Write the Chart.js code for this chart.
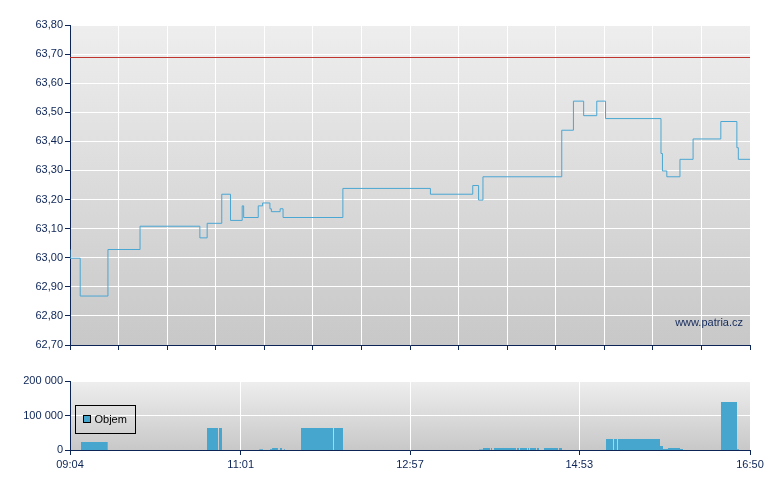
<!DOCTYPE html>
<html><head><meta charset="utf-8">
<script src="https://cdn.jsdelivr.net/npm/chart.js@4/dist/chart.umd.min.js"></script>
<style>
html,body{margin:0;padding:0;background:#fff;}
#wrap{position:relative;width:780px;height:490px;overflow:hidden;}
canvas{position:absolute;left:0;}
#c1{top:0;width:780px;height:360px;}
#c2{top:360px;width:780px;height:130px;}
</style></head><body>
<div id="wrap"><canvas id="c1" width="780" height="360"></canvas><canvas id="c2" width="780" height="130"></canvas></div>
<script>
// ---- data ----
const priceTimes = ['09:04','09:04','09:11','09:30','09:52','10:33','10:38','10:48','10:54','11:02','11:03','11:13','11:16','11:21','11:22','11:28','11:30','12:11','13:11','13:40','13:44','13:47','14:41','14:49','14:56','15:05','15:11','15:49','15:50','15:53','16:02','16:11','16:30','16:41','16:42','16:50'];
const prices = [63.03,63.00,62.87,63.03,63.11,63.07,63.12,63.22,63.13,63.18,63.14,63.18,63.19,63.17,63.16,63.17,63.14,63.24,63.22,63.25,63.20,63.28,63.44,63.54,63.49,63.54,63.48,63.36,63.30,63.28,63.34,63.41,63.47,63.38,63.34,63.34];
const prevClose = 63.69;
const volTimes = ['09:04:00','09:11:32','09:29:50','10:37:53','10:45:25','10:46:07','10:48:10','11:13:43','11:16:16','11:21:04','11:22:30','11:26:30','11:27:54','11:29:15','11:30:40','11:31:20','11:42:18','12:04:14','12:04:55','12:11:05','13:44:17','13:47:01','13:51:49','13:52:30','13:53:12','13:54:34','14:09:38','14:10:20','14:11:42','14:12:23','14:17:11','14:17:52','14:18:33','14:19:14','14:23:21','14:24:02','14:25:24','14:28:50','14:38:25','14:39:07','14:41:10','15:11:19','15:16:07','15:16:48','15:18:51','15:19:32','15:48:19','15:50:23','15:53:48','16:02:02','16:04:05','16:30:07','16:41:05','16:42:27','16:50:00'];
const volumes = [0,23000,0,64000,0,64000,0,2500,0,2500,5500,0,5500,0,2500,0,64000,0,64000,0,1500,5500,0,5500,0,5500,0,5500,0,5500,0,5500,0,5500,0,5500,0,5500,0,5500,0,32000,0,32000,0,32000,11500,3000,6000,3000,0,139000,2500,0,0];
const priceTicks = [62.70,62.80,62.90,63.00,63.10,63.20,63.30,63.40,63.50,63.60,63.70,63.80];
const timeLabels = ['09:04','11:01','12:57','14:53','16:50'];
const volTicks = [0,100000,200000];
const volTickLabels = ['0','100 000','200 000'];
const volumeLabel = 'Objem';
const watermark = 'www.patria.cz';

// ---- helpers ----
function toMin(s){const p=s.split(':').map(Number);return p[0]*60+p[1]+(p[2]||0)/60;}
const tStart = toMin(timeLabels[0]), tEnd = toMin(timeLabels[timeLabels.length-1]);
const NAVY = '#0c2456';
const FONT = '"Liberation Sans", Arial, sans-serif';
Chart.defaults.font.family = FONT;
Chart.defaults.font.size = 11;
Chart.defaults.color = NAVY;

const bgPlugin = {
  id:'bg',
  beforeDraw(chart){
    const a = chart.chartArea, ctx = chart.ctx;
    const g = ctx.createLinearGradient(0,a.top,0,a.bottom);
    g.addColorStop(0,'#eeeeee'); g.addColorStop(1,'#c8c8c8');
    ctx.save(); ctx.fillStyle = g; ctx.fillRect(a.left,a.top,a.right-a.left,a.bottom-a.top); ctx.restore();
  }
};
const crispPlugin = {
  id:'crisp',
  beforeDatasetsDraw(chart){ chart.ctx.save(); chart.ctx.translate(0,0.5); },
  afterDatasetsDraw(chart){ chart.ctx.restore(); }
};
const wmPlugin = {
  id:'wm',
  afterDatasetsDraw(chart){
    const a = chart.chartArea, ctx = chart.ctx;
    ctx.save(); ctx.font = '11px '+FONT; ctx.fillStyle = '#142a5c';
    ctx.textAlign='right'; ctx.textBaseline='middle';
    ctx.fillText(watermark, a.right-7, a.bottom-22);
    ctx.restore();
  }
};
const legendPlugin = {
  id:'lg',
  afterDatasetsDraw(chart){
    const a = chart.chartArea, ctx = chart.ctx;
    const x = a.left+5.5, y = 45.5;
    ctx.save();
    ctx.strokeStyle='#000'; ctx.lineWidth=1;
    ctx.strokeRect(x,y,60,28);
    ctx.fillStyle='#46a6ce'; ctx.fillRect(x+8,y+10,7,7); ctx.strokeRect(x+8,y+10,7,7);
    ctx.fillStyle='#000'; ctx.font='11px '+FONT; ctx.textBaseline='middle'; ctx.textAlign='left';
    ctx.fillText(volumeLabel, x+19, y+14.5);
    ctx.restore();
  }
};

// ---- price chart ----
const topXTicks = [];
for(let i=0;i<=14;i++) topXTicks.push({value: tStart + (tEnd-tStart)*i/14});

new Chart(document.getElementById('c1'), {
  type:'line',
  data:{datasets:[
    {data: priceTimes.map((t,i)=>({x:toMin(t), y:prices[i]})), borderColor:'#4aa6d2', borderWidth:1, pointRadius:0, stepped:true, fill:false},
    {data:[{x:tStart,y:prevClose},{x:tEnd,y:prevClose}], borderColor:'#c0352e', borderWidth:1, pointRadius:0, fill:false}
  ]},
  options:{
    responsive:false, animation:false, events:[],
    layout:{padding:{top:25,right:30,left:0,bottom:0}},
    plugins:{legend:{display:false}, tooltip:{enabled:false}},
    scales:{
      x:{type:'linear', min:tStart, max:tEnd,
        afterBuildTicks:s=>{s.ticks = topXTicks.map(t=>({value:t.value}));},
        afterFit:s=>{s.height = 15;},
        ticks:{display:false},
        grid:{color:'#ffffff', lineWidth:1, tickColor:NAVY, tickLength:5, drawTicks:true},
        border:{color:NAVY, width:1}
      },
      y:{min:priceTicks[0], max:priceTicks[priceTicks.length-1],
        afterBuildTicks:s=>{s.ticks = priceTicks.map(v=>({value:v}));},
        afterFit:s=>{s.width = 70;},
        ticks:{callback:v=>Number(v).toFixed(2).replace('.',','), padding:2, color:NAVY, font:{size:11}},
        grid:{color:'#ffffff', lineWidth:1, tickColor:NAVY, tickLength:5},
        border:{color:NAVY, width:1}
      }
    }
  },
  plugins:[bgPlugin, crispPlugin, wmPlugin]
});

// ---- volume chart ----
new Chart(document.getElementById('c2'), {
  type:'line',
  data:{datasets:[
    {data: volTimes.map((t,i)=>({x:toMin(t), y:volumes[i]})), borderColor:'rgba(0,0,0,0)', borderWidth:0, backgroundColor:'#46a6ce', pointRadius:0, stepped:true, fill:'origin'}
  ]},
  options:{
    responsive:false, animation:false, events:[],
    layout:{padding:{top:21,right:30,left:0,bottom:0}},
    plugins:{legend:{display:false}, tooltip:{enabled:false}},
    scales:{
      x:{type:'linear', min:tStart, max:tEnd,
        afterBuildTicks:s=>{s.ticks = timeLabels.map(l=>({value:toMin(l)}));},
        afterFit:s=>{s.height = 40;},
        ticks:{callback:(v,i)=>timeLabels[i], padding:3, maxRotation:0, autoSkip:false, color:NAVY, font:{size:11}},
        grid:{color:'#ffffff', lineWidth:1, tickColor:NAVY, tickLength:5},
        border:{color:NAVY, width:1}
      },
      y:{min:volTicks[0], max:volTicks[volTicks.length-1],
        afterBuildTicks:s=>{s.ticks = volTicks.map(v=>({value:v}));},
        afterFit:s=>{s.width = 70;},
        ticks:{callback:(v,i)=>volTickLabels[i], padding:2, color:NAVY, font:{size:11}},
        grid:{color:'#ffffff', lineWidth:1, tickColor:NAVY, tickLength:5},
        border:{color:NAVY, width:1}
      }
    }
  },
  plugins:[bgPlugin, legendPlugin]
});
</script>
</body></html>
